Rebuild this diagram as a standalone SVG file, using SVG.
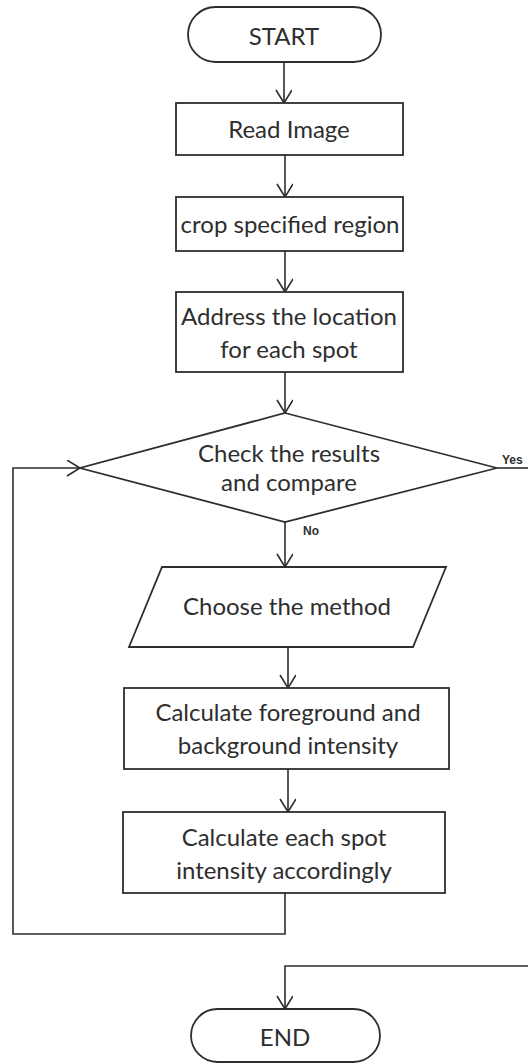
<svg xmlns="http://www.w3.org/2000/svg" width="528" height="1064" viewBox="0 0 528 1064">
<defs>
<style>
.s{fill:#fff;stroke:#2e2e2e;stroke-width:1.8}
.c{fill:none;stroke:#2e2e2e;stroke-width:1.6}
.t{font-family:Lato,"Open Sans",sans-serif;font-size:24px;fill:#2e2e2e;text-anchor:middle}
.l{font-family:"Liberation Sans",Arial,sans-serif;font-size:12px;font-weight:bold;fill:#2e2e2e}
</style>
<marker id="a" markerWidth="20" markerHeight="20" refX="14" refY="8" orient="auto" markerUnits="userSpaceOnUse">
<path d="M1,0 L14,8 L1,16" fill="none" stroke="#2e2e2e" stroke-width="1.6"/>
</marker>
</defs>
<g id="connectors">
<line class="c" x1="284" y1="62" x2="284" y2="103" marker-end="url(#a)"/>
<line class="c" x1="285" y1="155" x2="285" y2="197" marker-end="url(#a)"/>
<line class="c" x1="285" y1="251" x2="285" y2="292" marker-end="url(#a)"/>
<line class="c" x1="285" y1="372" x2="285" y2="413" marker-end="url(#a)"/>
<line class="c" x1="285" y1="522" x2="285" y2="567" marker-end="url(#a)"/>
<line class="c" x1="288" y1="647" x2="288" y2="688" marker-end="url(#a)"/>
<line class="c" x1="288" y1="769" x2="288" y2="812" marker-end="url(#a)"/>
<polyline class="c" points="285,893 285,934 13,934 13,468 80,468" marker-end="url(#a)"/>
<line class="c" x1="497" y1="468" x2="528" y2="468"/>
<polyline class="c" points="528,966 285,966 285,1009" marker-end="url(#a)"/>
<text class="l" x="502" y="464">Yes</text>
<text class="l" x="303" y="535">No</text>
</g>
<g id="start">
<rect class="s" x="188" y="7" width="193" height="55" rx="27.5"/>
<text class="t" x="284" y="45">START</text>
</g>
<g id="read">
<rect class="s" x="176" y="103" width="227" height="52"/>
<text class="t" x="289" y="138">Read Image</text>
</g>
<g id="crop">
<rect class="s" x="176" y="197" width="227" height="54"/>
<text class="t" x="290" y="233">crop specified region</text>
</g>
<g id="address">
<rect class="s" x="176" y="292" width="227" height="80"/>
<text class="t" x="289" y="325">Address the location</text>
<text class="t" x="289" y="358">for each spot</text>
</g>
<g id="check">
<polygon class="s" points="285,413 497,468 285,522 80,468"/>
<text class="t" x="289" y="462">Check the results</text>
<text class="t" x="289" y="491">and compare</text>
</g>
<g id="choose">
<polygon class="s" points="162,567 446,567 413,647 129,647"/>
<text class="t" x="287" y="615">Choose the method</text>
</g>
<g id="calcfg">
<rect class="s" x="124" y="688" width="325" height="81"/>
<text class="t" x="288" y="721">Calculate foreground and</text>
<text class="t" x="288" y="754">background intensity</text>
</g>
<g id="calcspot">
<rect class="s" x="123" y="812" width="322" height="81"/>
<text class="t" x="284" y="846">Calculate each spot</text>
<text class="t" x="284" y="879">intensity accordingly</text>
</g>
<g id="end">
<rect class="s" x="191" y="1009" width="189" height="53" rx="26.5"/>
<text class="t" x="285" y="1046">END</text>
</g>
</svg>
